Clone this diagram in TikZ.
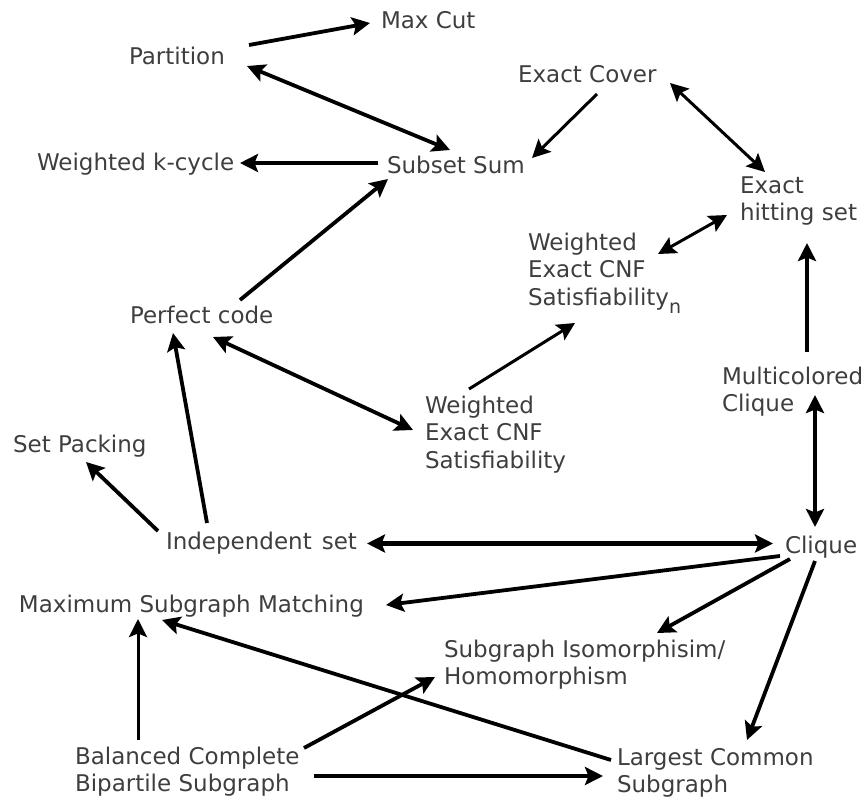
\documentclass[tikz,border=0pt]{standalone}
\usepackage{fontspec}
\setmainfont{DejaVu Sans}
\usetikzlibrary{arrows.meta}
\definecolor{txt}{RGB}{62,62,62}
\newcommand{\lines}[1]{\begin{tabular}[t]{@{}l@{}}#1\end{tabular}}
\begin{document}
\begin{tikzpicture}[x=1pt,y=-1pt,
  lbl/.style={anchor=base west,inner sep=0pt,outer sep=0pt,text=txt,
    font=\fontsize{23}{27.5}\selectfont},
  conn/.style={line width=3.8pt,-{Stealth[length=18pt,width=18pt,inset=3.5pt]}},
  bconn/.style={line width=3.8pt,{Stealth[length=18pt,width=18pt,inset=3.5pt]}-{Stealth[length=18pt,width=18pt,inset=3.5pt]}},
  thin/.style={line width=3pt}]
\useasboundingbox (0,0) rectangle (865,798);
\node[lbl] (maxcut) at (381,28) {Max Cut};
\node[lbl] (partition) at (129,64) {Partition};
\node[lbl] (exactcover) at (518,82) {Exact Cover};
\node[lbl] (kcycle) at (37,170) {Weighted k-cycle};
\node[lbl] (subsetsum) at (387,173) {Subset Sum};
\node[lbl] (hitting) at (740,193) {\lines{Exact\\hitting set}};
\node[lbl] (satn) at (528,250) {\lines{Weighted\\Exact CNF\\Satisfiability\raisebox{-8pt}{\fontsize{19}{19}\selectfont n}}};
\node[lbl] (perfect) at (130,323) {Perfect code};
\node[lbl] (multi) at (722,384) {\lines{Multicolored\\Clique}};
\node[lbl] (wecnf) at (425,413) {\lines{Weighted\\Exact CNF\\Satisfiability}};
\node[lbl] (setpacking) at (13,452) {Set Packing};
\node[lbl] (indep) at (166,549) {Independent\hspace{10pt}set};
\node[lbl] (clique) at (785,553) {Clique};
\node[lbl] (msm) at (19,612) {Maximum Subgraph Matching};
\node[lbl] (iso) at (444,657) {\lines{Subgraph Isomorphisim/\\Homomorphism}};
\node[lbl] (balanced) at (75,764) {\lines{Balanced Complete\\Bipartile Subgraph}};
\node[lbl] (lcs) at (617,765) {\lines{Largest Common\\Subgraph}};

\draw[conn] ([shift={(120,-19)}]partition.base west) -- ([shift={(-11,-5)}]maxcut.base west);
\draw[bconn] ([shift={(118,2)}]partition.base west) -- ([shift={(63,-23)}]subsetsum.base west);
\draw[conn] ([shift={(-9,-10)}]subsetsum.base west) -- ([shift={(203,-7)}]kcycle.base west);
\draw[conn,thin] ([shift={(79,12)}]exactcover.base west) -- ([shift={(145,-15)}]subsetsum.base west);
\draw[bconn,thin] ([shift={(152,1)}]exactcover.base west) -- ([shift={(25,-21)}]hitting.base west);
\draw[bconn,thin] ([shift={(-13,22)}]hitting.base west) -- ([shift={(130,4)}]satn.base west);
\draw[conn] ([shift={(110,-23)}]perfect.base west) -- ([shift={(1,6)}]subsetsum.base west);
\draw[bconn] ([shift={(83,14)}]perfect.base west) -- ([shift={(-12,17)}]wecnf.base west);
\draw[conn,thin] ([shift={(44,-24)}]wecnf.base west) -- ([shift={(47,73)}]satn.base west);
\draw[conn] ([shift={(85,-32)}]multi.base west) -- ([shift={(67,50)}]hitting.base west);
\draw[bconn] ([shift={(93,11)}]multi.base west) -- ([shift={(30,-26)}]clique.base west);
\draw[conn] ([shift={(-8,-18)}]indep.base west) -- ([shift={(73,10)}]setpacking.base west);
\draw[conn] ([shift={(41,-26)}]indep.base west) -- ([shift={(43,10)}]perfect.base west);
\draw[bconn,line width=4.4pt] ([shift={(201,-5.5)}]indep.base west) -- ([shift={(-12,-9.5)}]clique.base west);
\draw[conn] ([shift={(-5,3)}]clique.base west) -- ([shift={(367,-7)}]msm.base west);
\draw[conn] ([shift={(5,6)}]clique.base west) -- ([shift={(213,-24)}]iso.base west);
\draw[conn] ([shift={(30,8)}]clique.base west) -- ([shift={(130,-25)}]lcs.base west);
\draw[conn] ([shift={(-6,-5)}]lcs.base west) -- ([shift={(143,8)}]msm.base west);
\draw[conn,thin] ([shift={(63,-24)}]balanced.base west) -- ([shift={(119,7)}]msm.base west);
\draw[conn] ([shift={(229,-16)}]balanced.base west) -- ([shift={(-9,20)}]iso.base west);
\draw[conn] ([shift={(239,12)}]balanced.base west) -- ([shift={(-14,11)}]lcs.base west);
\end{tikzpicture}
\end{document}
